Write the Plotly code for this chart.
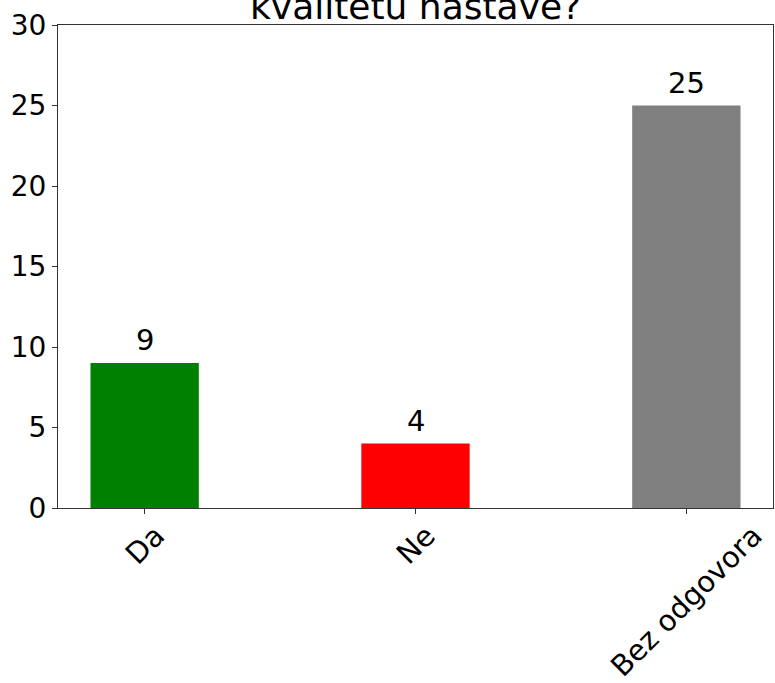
import plotly.graph_objects as go

categories = ["Da", "Ne", "Bez odgovora"]
values = [9, 4, 25]
colors = ["#008000", "#ff0000", "#808080"]
title_text = "kvalitetu nastave?"
y_ticks = [0, 5, 10, 15, 20, 25, 30]

FONT = "DejaVu Sans"
x_pos = list(range(len(categories)))

fig = go.Figure()
fig.add_trace(go.Bar(
    x=x_pos,
    y=values,
    width=0.4,
    marker=dict(color=colors, line=dict(width=0)),
    hoverinfo="x+y",
))

# value labels above bars
for xi, v in zip(x_pos, values):
    fig.add_annotation(
        text=str(v), xref="x", yref="y", x=xi, y=v,
        xanchor="center", yanchor="bottom", yshift=4, showarrow=False,
        font=dict(family=FONT, size=29, color="black"),
    )

# title (clipped at top as in the reference)
fig.add_annotation(
    text=title_text, xref="paper", yref="paper", x=0.5, y=1,
    yanchor="bottom", yshift=-4, showarrow=False,
    font=dict(family=FONT, size=36, color="black"),
)

# rotated category labels, centred under each tick like matplotlib
for xi, cat in zip(x_pos, categories):
    fig.add_annotation(
        text=cat, xref="x", yref="paper", x=xi, y=0,
        xanchor="center", yanchor="top", yshift=-8,
        textangle=-45, showarrow=False,
        font=dict(family=FONT, size=29, color="black"),
    )

fig.update_layout(
    width=775, height=683,
    margin=dict(l=58, r=2, t=25, b=175),
    paper_bgcolor="white", plot_bgcolor="white",
    showlegend=False,
    font=dict(family=FONT, size=28, color="black"),
    xaxis=dict(
        range=[-0.32, 2.32],
        tickmode="array", tickvals=x_pos, ticktext=["", "", ""],
        ticks="outside", ticklen=5, tickcolor="#333",
        showline=True, linecolor="#333", linewidth=1, mirror=True,
        showgrid=False, zeroline=False, automargin=False,
    ),
    yaxis=dict(
        range=[0, 30], tickmode="array", tickvals=y_ticks,
        ticks="outside", ticklen=5, tickcolor="#333",
        showline=True, linecolor="#333", linewidth=1, mirror=True,
        showgrid=False, zeroline=False, automargin=False,
        tickfont=dict(family=FONT, size=28),
    ),
)

fig.write_html(
    "out.html",
    config={"displayModeBar": False},
    post_script="document.body.style.margin='0';",
)
